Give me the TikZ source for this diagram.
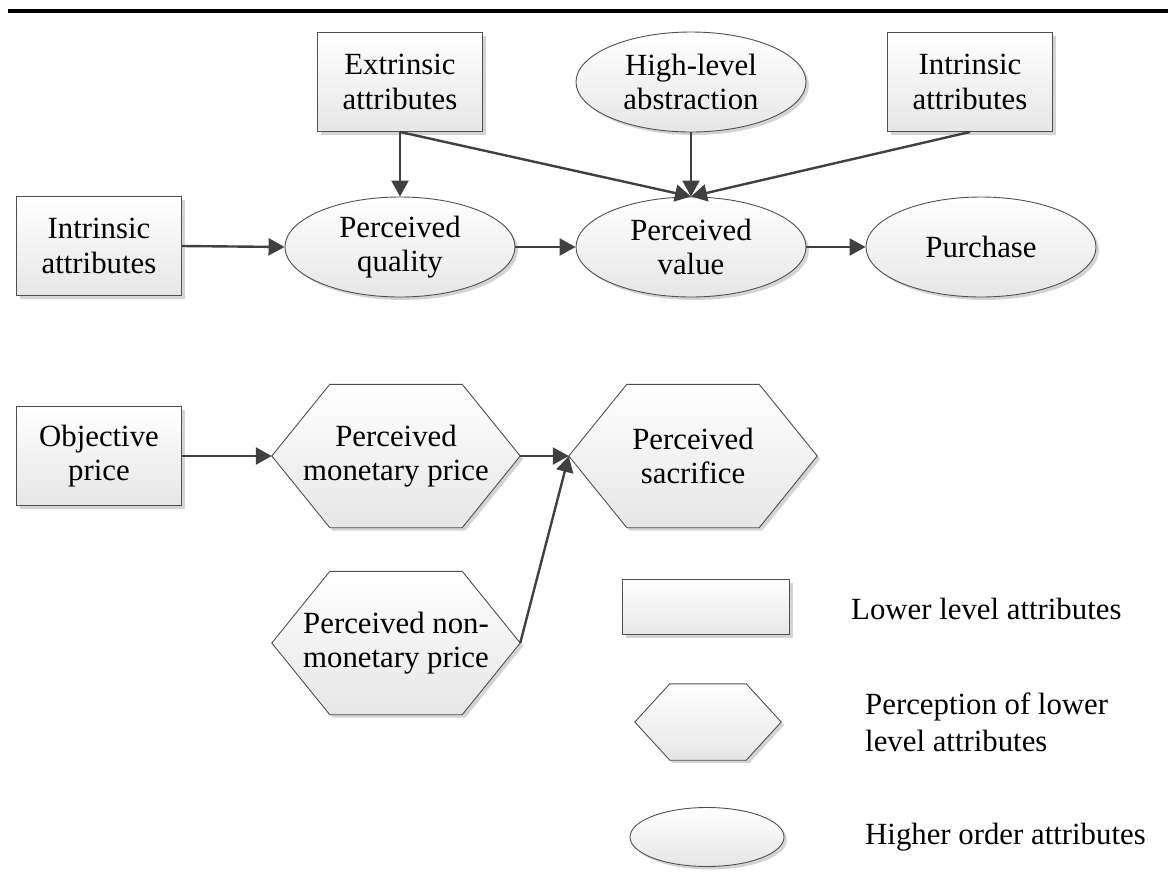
\documentclass[tikz,border=0pt]{standalone}
\usepackage{fontspec}
\setmainfont{Liberation Serif}
\usetikzlibrary{shapes.geometric,arrows.meta,shadows,calc}

\definecolor{edgegray}{HTML}{505050}
\definecolor{arrowgray}{HTML}{404040}
\definecolor{fillbottom}{HTML}{E6E6E6}
\definecolor{shadowgray}{HTML}{D4D4D4}

\tikzset{
  nodefont/.style={font=\fontsize{30.8}{34.5}\selectfont},
  shapefill/.style={top color=white, bottom color=fillbottom, draw=edgegray, line width=0.9pt},
  softshadow/.style={drop shadow={shadow xshift=3pt, shadow yshift=-3pt, fill=shadowgray, opacity=1}},
  lowbox/.style={shape=rectangle, shapefill, softshadow, minimum width=165pt, minimum height=99pt,
    inner sep=0pt, align=center, nodefont},
  highell/.style={shape=ellipse, shapefill, softshadow, minimum width=230pt, minimum height=100pt,
    inner sep=0pt, align=center, nodefont},
  hexframe/.style={shape=rectangle, draw=none, inner sep=0pt, align=center, nodefont},
  link/.style={draw=arrowgray, line width=2.4pt, -{Triangle[length=16pt,width=17pt]}},
  legendtext/.style={anchor=west, inner sep=0pt, align=left, font=\fontsize{30.8}{37}\selectfont},
}

% hexagon outline around a named rectangular frame; #2 is the slant inset
\newcommand{\hexoutline}[2]{%
  \path[shapefill, softshadow]
    (#1.west) -- ($(#1.north west)+(#2,0)$) -- ($(#1.north east)+(-#2,0)$) --
    (#1.east) -- ($(#1.south east)+(-#2,0)$) -- ($(#1.south west)+(#2,0)$) -- cycle;
}

\begin{document}
\begin{tikzpicture}[x=1pt, y=-1pt]
\useasboundingbox (0,0) rectangle (1168,895);

% heading rule
\draw[line width=4pt, black] (8,11.3) -- (1168,11.3);

% upper chain: quality and value
\node[lowbox] (extr) at (400,82) {Extrinsic\\attributes};
\node[highell] (abstr) at (691,82) {High-level\\abstraction};
\node[lowbox] (intrR) at (970,82) {Intrinsic\\attributes};
\node[lowbox] (intrL) at (99,246) {Intrinsic\\attributes};
\node[highell] (qual) at (400,247) {Perceived\\quality};
\node[highell] (valu) at (691,247) {Perceived\\value};
\node[highell] (purch) at (981,247) {Purchase};

% lower chain: price and sacrifice
\node[lowbox] (objp) at (99,456) {Objective\\price};
\node[hexframe, minimum width=248pt, minimum height=143pt] (monp) at (396,456) {};
\hexoutline{monp}{58}
\node[nodefont, align=center] (monplbl) at (monp) {Perceived\\monetary price};
\node[hexframe, minimum width=248pt, minimum height=143pt] (sacr) at (693,456) {};
\hexoutline{sacr}{58}
\node[nodefont, align=center] (sacrlbl) at (sacr) {Perceived\\sacrifice};
\node[hexframe, minimum width=248pt, minimum height=143pt] (nonp) at (396,643) {};
\hexoutline{nonp}{58}
\node[nodefont, align=center] (nonplbl) at (nonp) {Perceived non-\\monetary price};

% connectors
\draw[link] (intrL.east) -- (qual.west);
\draw[link] (extr.south) -- (qual.north);
\draw[link] (extr.south) -- (valu.north);
\draw[link] (abstr.south) -- (valu.north);
\draw[link] (intrR.south) -- (valu.north);
\draw[link] (qual.east) -- (valu.west);
\draw[link] (valu.east) -- (purch.west);
\draw[link] (objp.east) -- (monp.west);
\draw[link] (monp.east) -- (sacr.west);
\draw[link] (nonp.east) -- (sacr.west);

% legend
\node[lowbox, minimum width=167pt, minimum height=55pt] (legrect) at (706,607) {};
\node[legendtext] (legrectlbl) at (851,609) {Lower level attributes};
\node[hexframe, minimum width=146pt, minimum height=76pt] (leghex) at (708,722) {};
\hexoutline{leghex}{35}
\node[legendtext] (leghexlbl) at (865,722) {Perception of lower\\level attributes};
\node[highell, minimum width=154pt, minimum height=59pt] (legell) at (707,837) {};
\node[legendtext] (legelllbl) at (865,837) {Higher order attributes};
\end{tikzpicture}
\end{document}
